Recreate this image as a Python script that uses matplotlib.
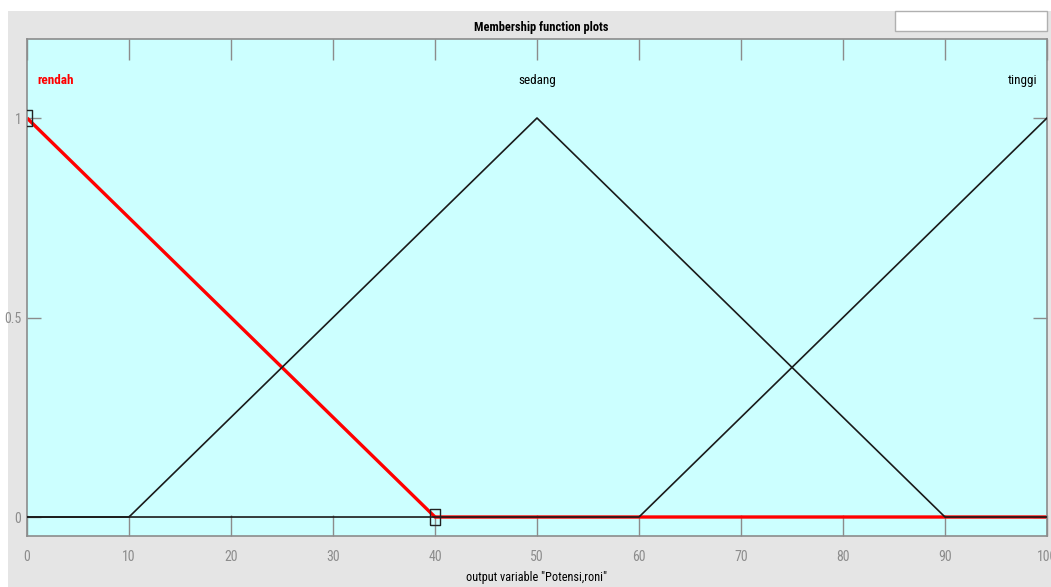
import matplotlib
matplotlib.use("Agg")
import matplotlib.pyplot as plt
from matplotlib.patches import Rectangle
from matplotlib import font_manager

# Membership functions of the output variable
x_range = [0, 100]
mf_names = ["rendah", "sedang", "tinggi"]
rendah_x = [0, 40, 100]
rendah_y = [1, 0, 0]
sedang_x = [0, 10, 50, 90, 100]
sedang_y = [0, 0, 1, 0, 0]
tinggi_x = [0, 60, 100]
tinggi_y = [0, 0, 1]
# vertices of the selected function (rendah) shown with handles
handle_x = [0, 40]
handle_y = [1, 0]
x_ticks = [0, 10, 20, 30, 40, 50, 60, 70, 80, 90, 100]
y_ticks = [0, 0.5, 1]
y_tick_labels = ["0", "0.5", "1"]
label_x = [1.0, 50, 99.1]
label_y = 1.095

# pick a narrow sans family that has both regular and bold faces
faces = {}
for f in font_manager.fontManager.ttflist:
    faces.setdefault(f.name, set()).add(f.weight if isinstance(f.weight, int) else 400)
narrow = "DejaVu Sans"
for cand in ["Liberation Sans Narrow", "Roboto Condensed", "Asap Condensed",
             "Barlow Semi Condensed", "Archivo Narrow"]:
    w = faces.get(cand, set())
    if 400 in w and any(x >= 700 for x in w):
        narrow = cand
        break
plt.rcParams["font.family"] = [narrow, "DejaVu Sans"]

W, H = 1051, 587
fig = plt.figure(figsize=(W / 100, H / 100), dpi=100, facecolor="white")

# window background
fig.patches.append(Rectangle((8 / W, 0), 1, 1 - 11 / H, transform=fig.transFigure,
                             facecolor="#e5e5e5", edgecolor="none", zorder=-2))
fig.patches.append(Rectangle((895 / W, 1 - 31 / H), 152 / W, 20 / H, transform=fig.transFigure,
                             facecolor="white", edgecolor="#b0b0b0", linewidth=1, zorder=-1))

ax = fig.add_axes([27 / W, 1 - 536 / H, 1020 / W, 497 / H])
ax.set_facecolor("#ccffff")
ax.set_xlim(*x_range)
ax.set_ylim(-0.0476, 1.198)

ax.plot(rendah_x, rendah_y, color="#ff0000", linewidth=2.4, zorder=2, solid_capstyle="butt")
ax.plot(sedang_x, sedang_y, color="#1a1a1a", linewidth=1.2, zorder=3)
ax.plot(tinggi_x, tinggi_y, color="#1a1a1a", linewidth=1.2, zorder=3)

# tall rectangular vertex handles
handle_shape = [(-0.34, -0.5), (0.34, -0.5), (0.34, 0.5), (-0.34, 0.5), (-0.34, -0.5)]
ax.plot(handle_x, handle_y, linestyle="none", marker=handle_shape, markersize=11.5,
        markerfacecolor="none", markeredgecolor="#222222", markeredgewidth=1, zorder=4)

ax.text(label_x[0], label_y, mf_names[0], color="red", fontweight="bold", fontsize=9.5,
        ha="left", va="center")
ax.text(label_x[1], label_y, mf_names[1], color="black", fontsize=9.5, ha="center", va="center")
ax.text(label_x[2], label_y, mf_names[2], color="black", fontsize=9.5, ha="right", va="center")

for s in ax.spines.values():
    s.set_color("#8c8c8c")
    s.set_linewidth(1.2)

ax.set_xticks(x_ticks)
ax.set_yticks(y_ticks)
ax.set_yticklabels(y_tick_labels)
ax.tick_params(axis="x", direction="in", length=15, width=1, color="#8c8c8c",
               top=True, bottom=True, labelcolor="#8c8c8c", labelsize=10, pad=10)
ax.tick_params(axis="y", direction="in", length=10, width=1, color="#8c8c8c",
               left=True, right=True, labelcolor="#8c8c8c", labelsize=10, pad=4)

ax.set_xlabel('output variable "Potensi,roni"', fontsize=8.8, color="black", labelpad=5)
fig.text(541 / W, 1 - 27 / H, "Membership function plots", fontweight="bold",
         fontsize=9, ha="center", va="center")

fig.savefig("out.png", dpi=100, facecolor=fig.get_facecolor())
